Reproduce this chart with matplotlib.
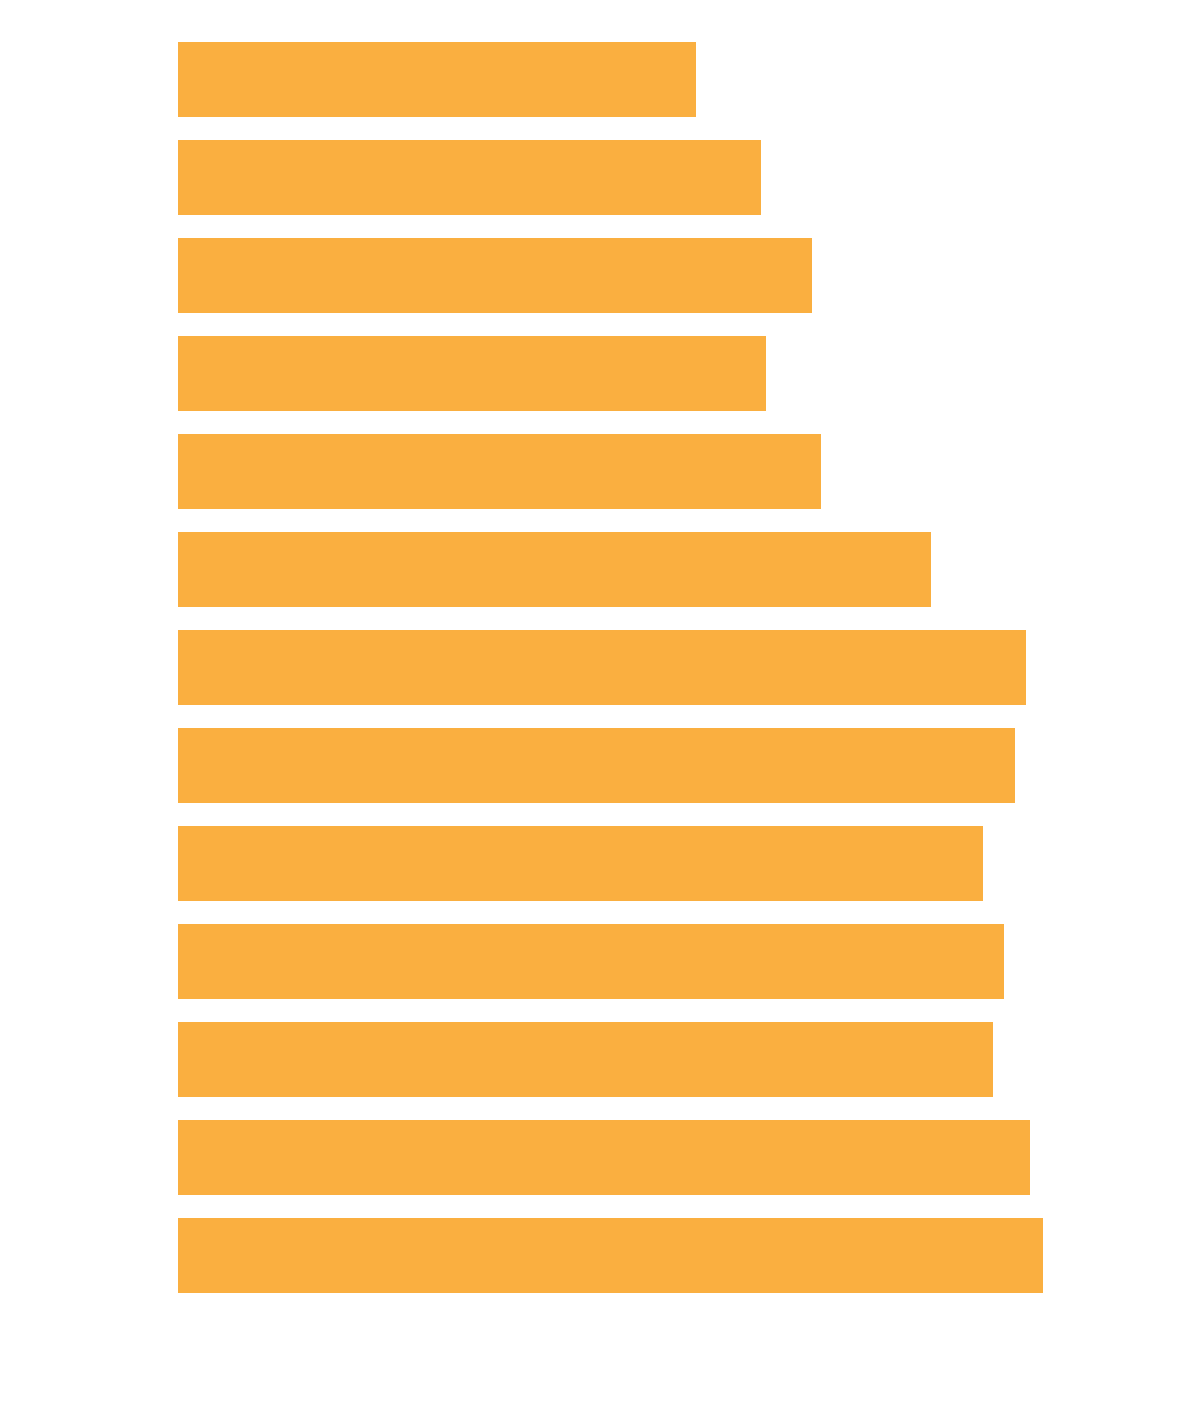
import matplotlib
matplotlib.use("Agg")
import matplotlib.pyplot as plt

# bar lengths (pixel-scaled units, no axis shown)
categories = list(range(13))
values = [518, 583, 634, 588, 643, 753, 848, 837, 805, 826, 815, 852, 865]
BAR_COLOR = "#faaf40"

W, H = 1200, 1421
fig = plt.figure(figsize=(W / 100, H / 100), dpi=100)

height = 0.765
left, right = 178 / W, 1043 / W
top, bottom = 42 / H, 1293 / H
ax = fig.add_axes([left, 1 - bottom, right - left, bottom - top])
ax.barh(categories, values, height=height, color=BAR_COLOR, linewidth=0)
ax.set_xlim(0, max(values))
ax.set_ylim(len(categories) - 1 + height / 2, -height / 2)
ax.axis("off")

fig.savefig("out.png", dpi=100, facecolor="white")
